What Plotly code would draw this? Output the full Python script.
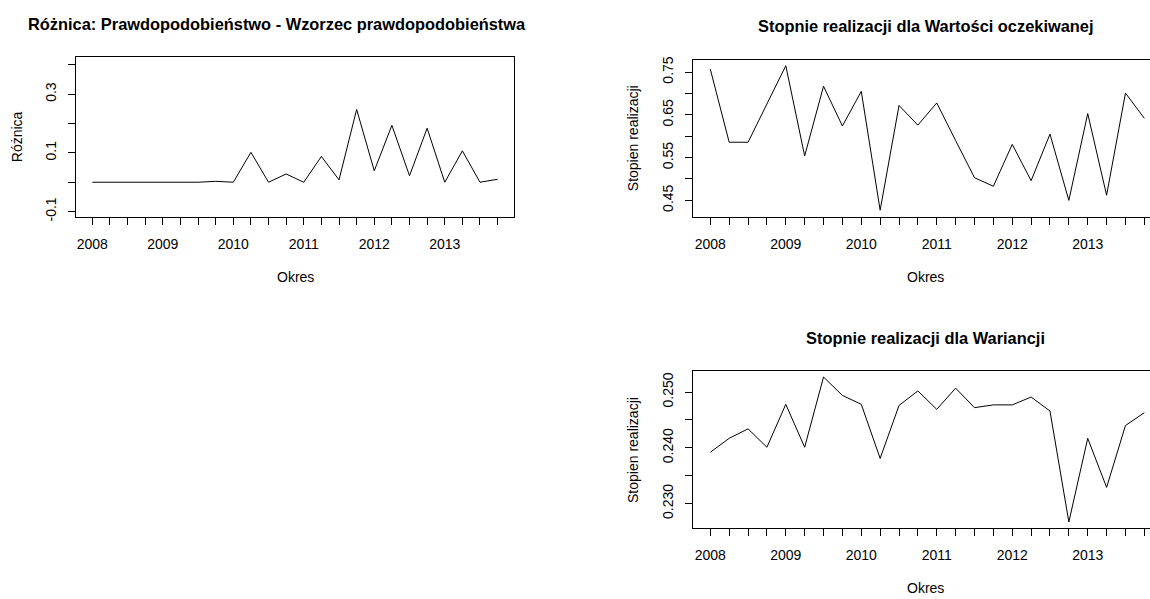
import plotly.graph_objects as go

W, H = 1150, 599

# ---- data ----
lata = [2008, 2009, 2010, 2011, 2012, 2013]
kwartaly = [1, 2, 3, 4]
okres = [r + (q - 1) / 4 for r in lata for q in kwartaly]
okres_etykiety = [str(r) if q == 1 else "" for r in lata for q in kwartaly]

roznica = [0.0, 0.0, 0.0, 0.0, 0.0, 0.0, 0.0, 0.003,
           0.0, 0.102, 0.0, 0.028, 0.0, 0.088, 0.008, 0.248,
           0.039, 0.194, 0.022, 0.184, 0.0, 0.107, 0.0, 0.010]

wartosc_oczekiwana = [0.757, 0.586, 0.586, 0.675, 0.765, 0.554, 0.717, 0.624,
                      0.705, 0.427, 0.672, 0.626, 0.678, 0.590, 0.503, 0.483,
                      0.581, 0.496, 0.605, 0.450, 0.653, 0.462, 0.701, 0.642]

wariancja = [0.2392, 0.2417, 0.2434, 0.2401, 0.2478, 0.2401, 0.2527, 0.2494,
             0.2478, 0.2381, 0.2476, 0.2502, 0.2469, 0.2507, 0.2472, 0.2477,
             0.2477, 0.2491, 0.2466, 0.2267, 0.2417, 0.2329, 0.2440, 0.2463]

y1_ticks = [-0.1, 0.0, 0.1, 0.2, 0.3, 0.4]
y1_text = ["-0.1", "", "0.1", "", "0.3", ""]
y2_ticks = [0.45, 0.50, 0.55, 0.60, 0.65, 0.70, 0.75]
y2_text = ["0.45", "", "0.55", "", "0.65", "", "0.75"]
y3_ticks = [0.230, 0.235, 0.240, 0.245, 0.250]
y3_text = ["0.230", "", "0.240", "", "0.250"]

tytuly = ["Różnica: Prawdopodobieństwo - Wzorzec prawdopodobieństwa",
          "Stopnie realizacji dla Wartości oczekiwanej",
          "Stopnie realizacji dla Wariancji"]

FONT = "Liberation Sans, Arial, sans-serif"
FS = 14
TFS = 16.4


def fx(p):
    return p / W


def fy(p):
    return 1 - p / H


fig = go.Figure()
fig.add_trace(go.Scatter(x=okres, y=roznica, mode="lines",
                         line=dict(color="black", width=1), xaxis="x", yaxis="y",
                         showlegend=False, hoverinfo="skip"))
fig.add_trace(go.Scatter(x=okres, y=wartosc_oczekiwana, mode="lines",
                         line=dict(color="black", width=1), xaxis="x2", yaxis="y2",
                         showlegend=False, hoverinfo="skip"))
fig.add_trace(go.Scatter(x=okres, y=wariancja, mode="lines",
                         line=dict(color="black", width=1), xaxis="x3", yaxis="y3",
                         showlegend=False, hoverinfo="skip"))


def xax(domain, rng, anchor, mirror=True):
    return dict(domain=domain, range=rng, anchor=anchor,
                tickmode="array", tickvals=okres, ticktext=okres_etykiety,
                ticks="outside", ticklen=7, tickcolor="black", tickwidth=1,
                showline=True, linecolor="black", linewidth=1, mirror=mirror,
                showgrid=False, zeroline=False, ticklabelstandoff=7,
                tickfont=dict(family=FONT, size=FS, color="black"))


def yax(domain, rng, anchor, vals, text, mirror=True):
    return dict(domain=domain, range=rng, anchor=anchor,
                tickmode="array", tickvals=vals, ticktext=text,
                ticks="outside", ticklen=7, tickcolor="black", tickwidth=1,
                showline=True, linecolor="black", linewidth=1, mirror=mirror,
                showgrid=False, zeroline=False, tickangle=-90, ticklabelstandoff=6,
                tickfont=dict(family=FONT, size=FS, color="black"))


# panel positions in pixels
p1 = dict(l=76, r=514, t=54, b=216)
p2 = dict(l=692.7, r=1150, t=56.7, b=215.7)
p3 = dict(l=692.7, r=1150, t=372.3, b=531)

x1_range = [2008 - 0.927 / 4, 2008 + 23.93 / 4]
x2_range = [2008 - 0.933 / 4, 2008 + 23.30 / 4]

fig.update_layout(
    width=W, height=H, margin=dict(l=0, r=0, t=0, b=0),
    paper_bgcolor="white", plot_bgcolor="white",
    xaxis=xax([fx(p1["l"]), fx(p1["r"])], x1_range, "y"),
    yaxis=yax([fy(p1["b"]), fy(p1["t"])], [-0.119, 0.426], "x", y1_ticks, y1_text),
    xaxis2=xax([fx(p2["l"]), 1.0], x2_range, "y2"),
    yaxis2=yax([fy(p2["b"]), fy(p2["t"])], [0.4115, 0.7785], "x2", y2_ticks, y2_text, mirror=False),
    xaxis3=xax([fx(p3["l"]), 1.0], x2_range, "y3"),
    yaxis3=yax([fy(p3["b"]), fy(p3["t"])], [0.22563, 0.25372], "x3", y3_ticks, y3_text, mirror=False),
)

ann = []
# titles
for txt, cx, cy in [(tytuly[0], 277, 20), (tytuly[1], 926, 22), (tytuly[2], 926, 339)]:
    ann.append(dict(text="<b>%s</b>" % txt, x=fx(cx), y=fy(cy), xref="paper", yref="paper",
                    showarrow=False, xanchor="center", yanchor="middle",
                    font=dict(family=FONT, size=TFS, color="black")))
# x axis titles
for cx, cy in [(295, 277), (926, 277), (926, 592)]:
    ann.append(dict(text="Okres", x=fx(cx), y=fy(cy), xref="paper", yref="paper",
                    showarrow=False, xanchor="center", yanchor="middle",
                    font=dict(family=FONT, size=FS, color="black")))
# y axis titles
for txt, cx, cy in [("Różnica", 17, 135), ("Stopien realizacji", 633, 136), ("Stopien realizacji", 633, 452)]:
    ann.append(dict(text=txt, x=fx(cx), y=fy(cy), xref="paper", yref="paper",
                    showarrow=False, xanchor="center", yanchor="middle", textangle=-90,
                    font=dict(family=FONT, size=FS, color="black")))
fig.update_layout(annotations=ann)

fig.write_html("out.html",
               config={"displayModeBar": False},
               post_script="document.body.style.margin='0';document.body.style.padding='0';"
                           "document.body.style.overflow='hidden';")
